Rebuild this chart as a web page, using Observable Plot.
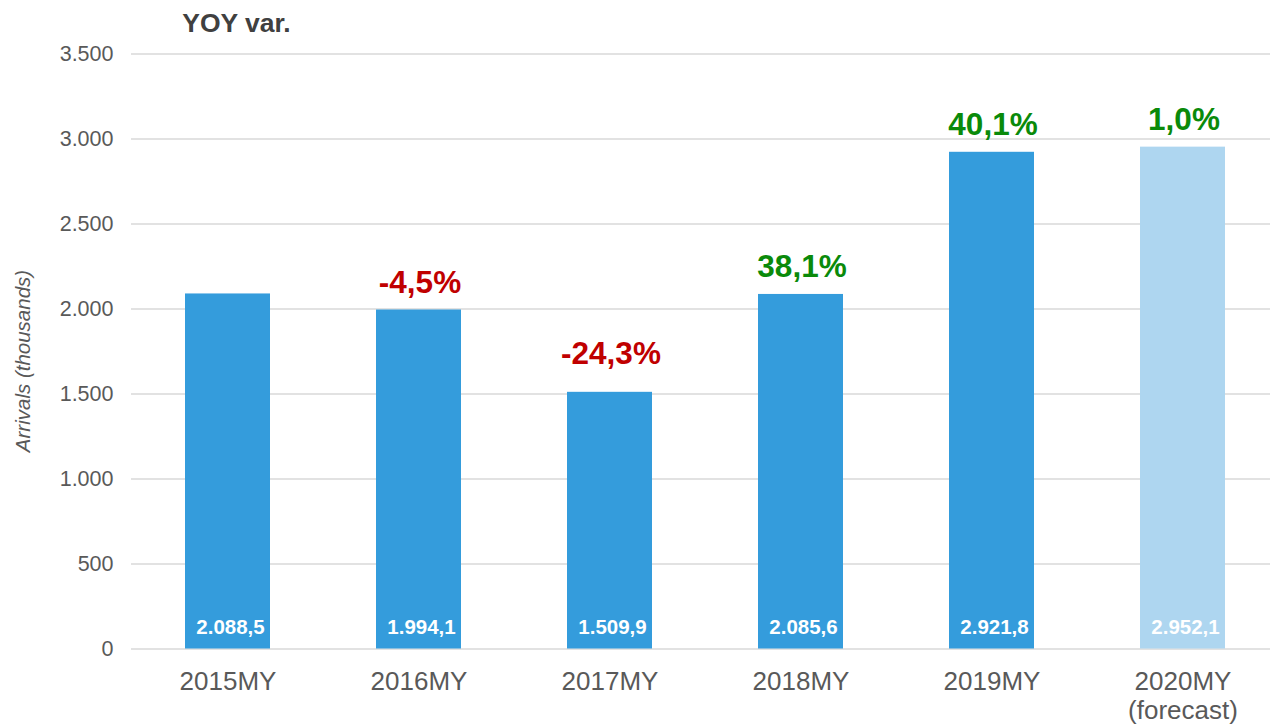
<!DOCTYPE html>
<html><head><meta charset="utf-8">
<script src="https://cdn.jsdelivr.net/npm/d3@7"></script>
<script src="https://cdn.jsdelivr.net/npm/@observablehq/plot@0.6"></script>
<style>body{margin:0;background:#fff;font-family:Arial,"Liberation Sans",sans-serif;overflow:hidden}</style>
</head><body><div id="chart"></div>
<script>
const categories = ["2015MY","2016MY","2017MY","2018MY","2019MY","2020MY"];
const categoryLabels = ["2015MY","2016MY","2017MY","2018MY","2019MY","2020MY\n(forecast)"];
const arrivals = [2088.5,1994.1,1509.9,2085.6,2921.8,2952.1];
const yoyVar = [null,-4.5,-24.3,38.1,40.1,1.0];
const isForecast = [false,false,false,false,false,true];
const yTicks = [0,500,1000,1500,2000,2500,3000,3500];

const locale = d3.formatLocale({decimal:",", thousands:".", grouping:[3], currency:["","€"], minus:"-"});
const fmtInt = locale.format(",.0f");
const fmt1 = locale.format(",.1f");
const fmtPct = v => locale.format(".1f")(v) + "%";
const labelMap = new Map(categories.map((c,i)=>[c,categoryLabels[i]]));

const data = categories.map((c,i)=>({cat:c,value:arrivals[i],yoy:yoyVar[i],forecast:isForecast[i]}));
const pctData = data.filter(d => d.yoy != null);

const chart = Plot.plot({
  width: 1270, height: 724,
  marginLeft: 131, marginRight: 0, marginTop: 53.5, marginBottom: 75.5,
  style: {fontFamily: "Arial, 'Liberation Sans', sans-serif", background: "#fff", color: "#595959", overflow: "visible"},
  x: {domain: categories, range: [131.3, 1279.7], paddingInner: 0.553, paddingOuter: 0.2765, align: 0.5},
  y: {domain: [0, 3500]},
  color: {type: "identity"},
  marks: [
    Plot.ruleY(yTicks, {stroke: "#D9D9D9", strokeWidth: 1.5}),
    Plot.barY(data, {x: "cat", y: "value", fill: d => d.forecast ? "#AED6F0" : "#349CDC"}),
    Plot.text(data, {x: "cat", y: d => 0, text: d => fmt1(d.value), dy: -15, dx: 2.5, lineAnchor: "bottom", fill: "#ffffff", fontWeight: "bold", fontSize: 20.5}),
    Plot.text(pctData.filter(d => d.cat !== "2017MY"), {x: "cat", y: "value", text: d => fmtPct(d.yoy), dy: -17, dx: 1, lineAnchor: "bottom", fontSize: 31.5, fontWeight: "bold", fill: d => d.yoy < 0 ? "#C00000" : "#0A8A0A"}),
    Plot.text(pctData.filter(d => d.cat === "2017MY"), {x: "cat", y: "value", text: d => fmtPct(d.yoy), dy: -28, dx: 1, lineAnchor: "bottom", fontSize: 31.5, fontWeight: "bold", fill: d => d.yoy < 0 ? "#C00000" : "#0A8A0A"}),
    Plot.axisY(yTicks, {tickSize: 0, tickPadding: 18, fontSize: 21.5, tickFormat: fmtInt, label: null}),
    Plot.axisX({tickSize: 0, tickPadding: 21, fontSize: 26, lineHeight: 1.1, tickFormat: d => labelMap.get(d), label: null}),
    Plot.text(["Arrivals (thousands)"], {frameAnchor: "left", textAnchor: "middle", lineAnchor: "middle", rotate: -90, dx: 23 - 131, dy: 9.5, fontStyle: "italic", fontSize: 20.5, fill: "#595959"}),
    Plot.text(["YOY var."], {frameAnchor: "top-left", textAnchor: "start", lineAnchor: "bottom", dx: 50.7, dy: -21.8, fontSize: 26.5, fontWeight: "bold", fill: "#404040"})
  ]
});
document.getElementById("chart").appendChild(chart);
</script>
</body></html>
